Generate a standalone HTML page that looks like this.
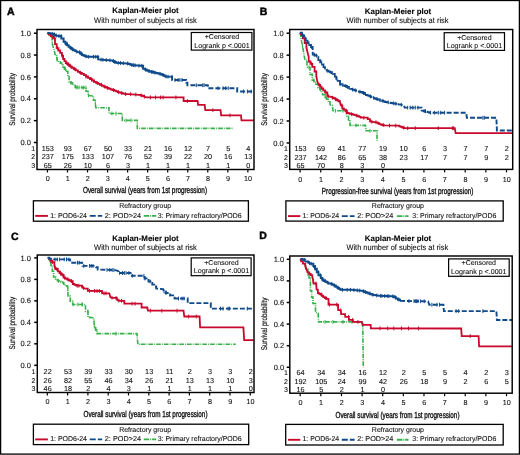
<!DOCTYPE html><html><head><meta charset="utf-8"><style>html,body{margin:0;padding:0;background:#fff;width:520px;height:455px;overflow:hidden}</style></head><body><svg width="520" height="455" viewBox="0 0 520 455" style="display:block;text-rendering:geometricPrecision;will-change:transform" font-family='"Liberation Sans", sans-serif'>
<style>text{stroke:#111;stroke-width:0.1px}</style>
<rect x="0" y="0" width="520" height="455" fill="#fff"/>
<g><text x="7" y="15" font-size="10.5" font-weight="bold" fill="#000" style="stroke:#000;stroke-width:0.45px">A</text><text x="145.5" y="13.1" font-size="8" font-weight="bold" text-anchor="middle" textLength="66.5" lengthAdjust="spacingAndGlyphs" fill="#000">Kaplan-Meier plot</text><text x="145.45" y="22.9" font-size="8" text-anchor="middle" textLength="102.8" lengthAdjust="spacingAndGlyphs" fill="#111">With number of subjects at risk</text><path d="M47.5,32.7 L48.9,32.7 L48.9,34.95 L50.3,34.95 L50.3,37.2 L52.1,37.2 L52.1,43 L53.2,47 L54.4,50.5 L55,54.5 L56.7,54.5 L56.7,56.8 L57.3,60.6 L58.85,60.6 L58.85,61.85 L60.4,61.85 L60.4,63.1 L61.75,63.1 L61.75,65.1 L63.1,65.1 L63.1,67.1 L64.45,67.1 L64.45,69.15 L65.8,69.15 L65.8,71.2 L67.8,71.2 L67.8,76.5 L69.1,76.5 L69.1,81.9 L70.8,81.9 L70.8,82.9 L72.5,82.9 L72.5,83.9 L73.85,83.9 L73.85,85.6 L75.2,85.6 L75.2,87.3 L83.9,87.6 L86,87.6 L86,91.3 L88,91.3 L88,95.4 L93.4,96 L93.5,100.2 L95.2,100.2 L95.2,101.9 L95.8,107.7 L109,107.7 L109,113.5 L122.3,113.5 L122.3,120.4 L137.3,120.4 L137.3,128.4 L233.3,128.4" fill="none" stroke="#36b14a" stroke-width="1.6" stroke-dasharray="4.6 1.1 0.9 1.1"/><path d="M52.49,42.51v3.8M56.96,56.55v3.8M65.44,67.25v3.8M71.04,81v3.8M77.24,85.47v3.8M83.61,85.69v3.8M88.45,93.55v3.8M95.46,102.49v3.8M76,85.43v3.8M79,85.53v3.8M82,85.63v3.8M86,85.7v3.8M112,111.6v3.8M116,111.6v3.8M126,118.5v3.8M131,118.5v3.8" stroke="#36b14a" stroke-width="1" fill="none"/><path d="M47.5,32.7 L48.6,34.3 L50.9,34.3 L50.9,36.1 L53.2,36.1 L53.2,38.4 L55,38.4 L55,44.2 L56.7,44.2 L56.7,48.2 L58.4,48.2 L58.4,50.5 L60.2,50.5 L60.2,52.8 L61.9,52.8 L61.9,55.7 L63.1,55.7 L63.1,59 L64.45,59 L64.45,61.05 L65.8,61.05 L65.8,63.1 L67.8,63.1 L67.8,64.75 L69.8,64.75 L69.8,66.4 L71.8,66.4 L71.8,67.75 L73.8,67.75 L73.8,69.1 L75.85,69.1 L75.85,70.45 L77.9,70.45 L77.9,71.8 L79.9,71.8 L79.9,72.8 L81.9,72.8 L81.9,73.8 L83.95,73.8 L83.95,75.15 L86,75.15 L86,76.5 L88,76.5 L88,77.85 L90,77.85 L90,79.2 L92,79.2 L92,80.55 L94,80.55 L94,81.9 L96.05,81.9 L96.05,82.9 L98.1,82.9 L98.1,83.9 L99.9,83.9 L99.9,84.8 L101.7,84.8 L101.7,85.7 L103.5,85.7 L103.5,86.6 L105.27,86.6 L105.27,87.27 L107.03,87.27 L107.03,87.93 L108.8,87.93 L108.8,88.6 L110.6,88.6 L110.6,89.3 L112.4,89.3 L112.4,90 L114.2,90 L114.2,90.7 L116,90.7 L116,91.37 L117.8,91.37 L117.8,92.03 L119.6,92.03 L119.6,92.7 L121.4,92.7 L121.4,93.13 L123.2,93.13 L123.2,93.57 L125,93.57 L125,94 L128.9,94.1 L139,94.8 L140.73,94.8 L140.73,95.4 L142.47,95.4 L142.47,96 L144.2,96 L144.2,96.6 L146.6,97.4 L182.3,97.4 L183.6,97.4 L183.6,101 L197.6,101 L198.1,104.8 L204.7,104.8 L205.3,110.2 L220.6,110.2 L221.1,115.3 L241,115.3 L241.5,120.4 L254,120.4" fill="none" stroke="#c8082c" stroke-width="1.8"/><path d="M50.29,32.4v3.8M54.58,36.5v3.8M57.45,46.3v3.8M62.19,53.8v3.8M66.79,61.2v3.8M68.61,62.85v3.8M70.75,64.5v3.8M74.88,67.2v3.8M80.61,70.9v3.8M86.04,74.6v3.8M91.59,77.3v3.8M93.85,78.65v3.8M97.13,81v3.8M101.5,82.9v3.8M104.86,84.7v3.8M107.57,86.03v3.8M113.59,88.1v3.8M118.24,90.13v3.8M121.75,91.23v3.8M125.64,92.12v3.8M130.59,92.32v3.8M135.84,92.68v3.8M141.18,93.5v3.8M144.39,94.76v3.8M150.4,95.5v3.8M155.5,95.5v3.8M160.6,95.5v3.8M163.1,95.5v3.8M175.9,95.5v3.8M187.4,99.1v3.8M212.9,108.3v3.8M230,113.4v3.8" stroke="#c8082c" stroke-width="1" fill="none"/><path d="M47.5,32.7 L52.1,33.8 L53.8,33.8 L53.8,34.65 L55.5,34.65 L55.5,35.5 L59,36.1 L61.3,36.1 L61.3,38.4 L63.6,38.4 L63.6,41.8 L65.35,41.8 L65.35,43.55 L67.1,43.55 L67.1,45.3 L68.63,45.3 L68.63,46.63 L70.17,46.63 L70.17,47.97 L71.7,47.97 L71.7,49.3 L73.45,49.3 L73.45,50.2 L75.2,50.2 L75.2,51.1 L78.6,52.2 L80.35,52.2 L80.35,53.65 L82.1,53.65 L82.1,55.1 L83.63,55.1 L83.63,55.67 L85.17,55.67 L85.17,56.23 L86.7,56.23 L86.7,56.8 L96.2,56.8 L98.2,56.8 L98.2,59.4 L111.5,60.4 L113.07,60.4 L113.07,61.17 L114.63,61.17 L114.63,61.93 L116.2,61.93 L116.2,62.7 L126.9,63.5 L128.43,63.5 L128.43,64 L129.97,64 L129.97,64.5 L131.5,64.5 L131.5,65 L140.8,65.8 L143.1,65.8 L143.1,68.8 L144.9,68.8 L144.9,69.6 L146.7,69.6 L146.7,70.4 L148.5,70.4 L148.5,71.2 L150.03,71.2 L150.03,71.58 L151.55,71.58 L151.55,71.95 L153.07,71.95 L153.07,72.33 L154.6,72.33 L154.6,72.7 L156.15,72.7 L156.15,73.08 L157.7,73.08 L157.7,73.45 L159.25,73.45 L159.25,73.83 L160.8,73.83 L160.8,74.2 L162.33,74.2 L162.33,74.97 L163.87,74.97 L163.87,75.73 L165.4,75.73 L165.4,76.5 L170.8,76.8" fill="none" stroke="#0f4a8a" stroke-width="2"/><path d="M170.8,76.8 L172.1,76.8 L172.1,80 L184.8,80 L186.1,80 L186.1,82.6 L187.4,82.6 L187.4,85.2 L206.5,85.2 L207.8,85.2 L207.8,88.2 L235.9,88.2 L237.2,88.2 L237.2,91.5 L254,91.5" fill="none" stroke="#0f4a8a" stroke-width="1.9" stroke-dasharray="5 2"/><path d="M52.29,31.9v3.8M54.46,32.75v3.8M56.28,33.73v3.8M59.03,34.2v3.8M61.17,34.2v3.8M65.53,41.65v3.8M66.76,41.65v3.8M70.91,46.07v3.8M72.69,47.4v3.8M76.81,49.72v3.8M79.57,50.3v3.8M81.24,51.75v3.8M85.99,54.33v3.8M88.7,54.9v3.8M93.42,54.9v3.8M95.78,54.9v3.8M97.84,54.9v3.8M101.04,57.71v3.8M102.94,57.86v3.8M106.22,58.1v3.8M109.96,58.38v3.8M113.47,59.27v3.8M114.69,60.03v3.8M118.3,60.96v3.8M120.46,61.12v3.8M123.29,61.33v3.8M127.58,61.6v3.8M131.9,63.13v3.8M133.58,63.28v3.8M135.11,63.41v3.8M139.02,63.75v3.8M141.77,63.9v3.8M145.52,67.7v3.8M149.05,69.3v3.8M151.7,70.05v3.8M153,70.05v3.8M155,70.8v3.8M160,71.92v3.8M163,73.07v3.8M166,74.63v3.8M168,74.74v3.8M172,74.9v3.8M175,78.1v3.8M178,78.1v3.8M180,78.1v3.8M182,78.1v3.8M196.3,83.3v3.8M202.7,83.3v3.8M204,83.3v3.8M218,86.3v3.8M223.1,86.3v3.8M225.7,86.3v3.8M228.2,86.3v3.8M243.5,89.6v3.8M247.4,89.6v3.8M251.2,89.6v3.8" stroke="#0f4a8a" stroke-width="1" fill="none"/><rect x="37" y="29.5" width="217" height="140" fill="none" stroke="#000" stroke-width="1.45"/><line x1="33.9" y1="142.5" x2="37" y2="142.5" stroke="#000" stroke-width="1.5"/><text x="30.9" y="145.1" font-size="7.5" text-anchor="end" fill="#111">0.0</text><line x1="33.9" y1="120.64" x2="37" y2="120.64" stroke="#000" stroke-width="1.5"/><text x="30.9" y="123.24" font-size="7.5" text-anchor="end" fill="#111">0.2</text><line x1="33.9" y1="98.78" x2="37" y2="98.78" stroke="#000" stroke-width="1.5"/><text x="30.9" y="101.38" font-size="7.5" text-anchor="end" fill="#111">0.4</text><line x1="33.9" y1="76.92" x2="37" y2="76.92" stroke="#000" stroke-width="1.5"/><text x="30.9" y="79.52" font-size="7.5" text-anchor="end" fill="#111">0.6</text><line x1="33.9" y1="55.06" x2="37" y2="55.06" stroke="#000" stroke-width="1.5"/><text x="30.9" y="57.66" font-size="7.5" text-anchor="end" fill="#111">0.8</text><line x1="33.9" y1="33.2" x2="37" y2="33.2" stroke="#000" stroke-width="1.5"/><text x="30.9" y="35.8" font-size="7.5" text-anchor="end" fill="#111">1.0</text><text transform="translate(14.5,99.4) rotate(-90)" x="0" y="0" font-size="8.2" style="stroke-width:0.2px" text-anchor="middle" textLength="52.7" lengthAdjust="spacingAndGlyphs" fill="#111">Survival probability</text><line x1="47.45" y1="169.5" x2="47.45" y2="172.5" stroke="#000" stroke-width="1.2"/><text x="47.65" y="181" font-size="7.2" text-anchor="middle" fill="#111">0</text><line x1="67.49" y1="169.5" x2="67.49" y2="172.5" stroke="#000" stroke-width="1.2"/><text x="67.69" y="181" font-size="7.2" text-anchor="middle" fill="#111">1</text><line x1="87.53" y1="169.5" x2="87.53" y2="172.5" stroke="#000" stroke-width="1.2"/><text x="87.73" y="181" font-size="7.2" text-anchor="middle" fill="#111">2</text><line x1="107.57" y1="169.5" x2="107.57" y2="172.5" stroke="#000" stroke-width="1.2"/><text x="107.77" y="181" font-size="7.2" text-anchor="middle" fill="#111">3</text><line x1="127.61" y1="169.5" x2="127.61" y2="172.5" stroke="#000" stroke-width="1.2"/><text x="127.81" y="181" font-size="7.2" text-anchor="middle" fill="#111">4</text><line x1="147.65" y1="169.5" x2="147.65" y2="172.5" stroke="#000" stroke-width="1.2"/><text x="147.85" y="181" font-size="7.2" text-anchor="middle" fill="#111">5</text><line x1="167.69" y1="169.5" x2="167.69" y2="172.5" stroke="#000" stroke-width="1.2"/><text x="167.89" y="181" font-size="7.2" text-anchor="middle" fill="#111">6</text><line x1="187.73" y1="169.5" x2="187.73" y2="172.5" stroke="#000" stroke-width="1.2"/><text x="187.93" y="181" font-size="7.2" text-anchor="middle" fill="#111">7</text><line x1="207.77" y1="169.5" x2="207.77" y2="172.5" stroke="#000" stroke-width="1.2"/><text x="207.97" y="181" font-size="7.2" text-anchor="middle" fill="#111">8</text><line x1="227.81" y1="169.5" x2="227.81" y2="172.5" stroke="#000" stroke-width="1.2"/><text x="228.01" y="181" font-size="7.2" text-anchor="middle" fill="#111">9</text><line x1="247.85" y1="169.5" x2="247.85" y2="172.5" stroke="#000" stroke-width="1.2"/><text x="248.05" y="181" font-size="7.2" text-anchor="middle" fill="#111">10</text><text x="35.2" y="150.9" font-size="7" text-anchor="end" fill="#111">1</text><text x="47.8" y="150.9" font-size="7.25" text-anchor="middle" fill="#111">153</text><text x="67.84" y="150.9" font-size="7.25" text-anchor="middle" fill="#111">93</text><text x="87.88" y="150.9" font-size="7.25" text-anchor="middle" fill="#111">67</text><text x="107.92" y="150.9" font-size="7.25" text-anchor="middle" fill="#111">50</text><text x="127.96" y="150.9" font-size="7.25" text-anchor="middle" fill="#111">33</text><text x="148" y="150.9" font-size="7.25" text-anchor="middle" fill="#111">21</text><text x="168.04" y="150.9" font-size="7.25" text-anchor="middle" fill="#111">16</text><text x="188.08" y="150.9" font-size="7.25" text-anchor="middle" fill="#111">12</text><text x="208.12" y="150.9" font-size="7.25" text-anchor="middle" fill="#111">7</text><text x="228.16" y="150.9" font-size="7.25" text-anchor="middle" fill="#111">5</text><text x="248.2" y="150.9" font-size="7.25" text-anchor="middle" fill="#111">4</text><text x="35.2" y="159.4" font-size="7" text-anchor="end" fill="#111">2</text><text x="47.8" y="159.4" font-size="7.25" text-anchor="middle" fill="#111">237</text><text x="67.84" y="159.4" font-size="7.25" text-anchor="middle" fill="#111">175</text><text x="87.88" y="159.4" font-size="7.25" text-anchor="middle" fill="#111">133</text><text x="107.92" y="159.4" font-size="7.25" text-anchor="middle" fill="#111">107</text><text x="127.96" y="159.4" font-size="7.25" text-anchor="middle" fill="#111">76</text><text x="148" y="159.4" font-size="7.25" text-anchor="middle" fill="#111">52</text><text x="168.04" y="159.4" font-size="7.25" text-anchor="middle" fill="#111">39</text><text x="188.08" y="159.4" font-size="7.25" text-anchor="middle" fill="#111">22</text><text x="208.12" y="159.4" font-size="7.25" text-anchor="middle" fill="#111">20</text><text x="228.16" y="159.4" font-size="7.25" text-anchor="middle" fill="#111">16</text><text x="248.2" y="159.4" font-size="7.25" text-anchor="middle" fill="#111">13</text><text x="35.2" y="167.8" font-size="7" text-anchor="end" fill="#111">3</text><text x="47.8" y="167.8" font-size="7.25" text-anchor="middle" fill="#111">65</text><text x="67.84" y="167.8" font-size="7.25" text-anchor="middle" fill="#111">26</text><text x="87.88" y="167.8" font-size="7.25" text-anchor="middle" fill="#111">10</text><text x="107.92" y="167.8" font-size="7.25" text-anchor="middle" fill="#111">6</text><text x="127.96" y="167.8" font-size="7.25" text-anchor="middle" fill="#111">3</text><text x="148" y="167.8" font-size="7.25" text-anchor="middle" fill="#111">1</text><text x="168.04" y="167.8" font-size="7.25" text-anchor="middle" fill="#111">1</text><text x="188.08" y="167.8" font-size="7.25" text-anchor="middle" fill="#111">1</text><text x="208.12" y="167.8" font-size="7.25" text-anchor="middle" fill="#111">1</text><text x="228.16" y="167.8" font-size="7.25" text-anchor="middle" fill="#111">1</text><text x="248.2" y="167.8" font-size="7.25" text-anchor="middle" fill="#111">0</text><text x="145" y="192.7" font-size="8.8" style="stroke-width:0.35px" text-anchor="middle" textLength="124" lengthAdjust="spacingAndGlyphs" fill="#111">Overall survival (years from 1st progression)</text><rect x="191.3" y="32.5" width="60.6" height="17.6" fill="#fff" stroke="#000" stroke-width="1.2"/><text x="222" y="39.3" font-size="7" text-anchor="middle" fill="#111">+Censored</text><text x="222" y="47.6" font-size="7.1" text-anchor="middle" fill="#111">Logrank p &lt;.0001</text><rect x="33.4" y="200.8" width="215" height="20.4" fill="#fff" stroke="#000" stroke-width="1.3"/><text x="145.2" y="208" font-size="7" text-anchor="middle" fill="#111">Refractory group</text><line x1="35.2" y1="215.9" x2="47.9" y2="215.9" stroke="#c8082c" stroke-width="1.9"/><text x="50.2" y="217.5" font-size="7.1" textLength="36.8" lengthAdjust="spacingAndGlyphs" fill="#111">1: POD6-24</text><line x1="89.75" y1="215.9" x2="102.2" y2="215.9" stroke="#0f4a8a" stroke-width="1.9" stroke-dasharray="6 2"/><text x="104.8" y="217.5" font-size="7.1" textLength="36.2" lengthAdjust="spacingAndGlyphs" fill="#111">2: POD&gt;24</text><line x1="143.75" y1="215.9" x2="156.2" y2="215.9" stroke="#36b14a" stroke-width="1.9" stroke-dasharray="5.5 0.9 1 0.9"/><text x="157.7" y="217.5" font-size="7.1" textLength="84" lengthAdjust="spacingAndGlyphs" fill="#111">3: Primary refractory/POD6</text></g>
<g><text x="259.7" y="14.8" font-size="10.5" font-weight="bold" fill="#000" style="stroke:#000;stroke-width:0.45px">B</text><text x="398" y="13.5" font-size="8" font-weight="bold" text-anchor="middle" textLength="66.5" lengthAdjust="spacingAndGlyphs" fill="#000">Kaplan-Meier plot</text><text x="397.5" y="22.7" font-size="8" text-anchor="middle" textLength="102.1" lengthAdjust="spacingAndGlyphs" fill="#111">With number of subjects at risk</text><path d="M300,32.6 L300.6,34.9 L301.2,39.5 L302.3,45.3 L303.5,51.1 L304.1,55.7 L305.2,60.3 L307,60.3 L307,64.9 L307.5,67.2 L310,67.2 L310,74.4 L312.3,74.4 L312.3,80.2 L314.05,80.2 L314.05,82.2 L315.8,82.2 L315.8,84.2 L318.1,84.2 L318.1,87.7 L319.8,87.7 L319.8,89.45 L321.5,89.45 L321.5,91.2 L322.7,94.6 L325,94.6 L325,96.9 L326.7,96.9 L326.7,99.2 L328.35,99.2 L328.35,101.9 L330,101.9 L330,104.6 L332.3,105.4 L333,110.8 L345.4,110.8 L346.2,112.3 L347,116.2 L348.5,116.2 L348.5,120.8 L350,120.8 L350,125.4 L365.4,125.4 L366.2,130.8 L377,130.8 L377,141.3" fill="none" stroke="#36b14a" stroke-width="1.6" stroke-dasharray="4.6 1.1 0.9 1.1"/><path d="M302.5,44.35v3.8M308.95,65.3v3.8M313.81,78.3v3.8M320.36,87.55v3.8M325.31,95v3.8M335.35,108.9v3.8M342.85,108.9v3.8M356,123.5v3.8M370,128.9v3.8" stroke="#36b14a" stroke-width="1" fill="none"/><path d="M300,32.6 L301.2,34.9 L302.9,34.9 L302.9,38.4 L304.7,38.4 L304.7,43 L306.4,43 L306.4,47.6 L307.5,52.2 L308.7,56.8 L308.7,61.5 L310.4,61.5 L310.4,63.8 L312.3,63.8 L312.3,66.9 L314.6,66.9 L314.6,71.5 L316.3,71.5 L316.3,76.2 L317.5,81.9 L318.7,84.8 L320.1,84.8 L320.1,86.55 L321.5,86.55 L321.5,88.3 L323.25,88.3 L323.25,90.3 L325,90.3 L325,92.3 L327.3,92.3 L327.3,95.8 L330.8,96.9 L332.33,96.9 L332.33,97.67 L333.87,97.67 L333.87,98.43 L335.4,98.43 L335.4,99.2 L336.93,99.2 L336.93,100.23 L338.47,100.23 L338.47,101.27 L340,101.27 L340,102.3 L340.8,105.4 L342.3,105.4 L342.3,108.5 L343.85,108.5 L343.85,109.65 L345.4,109.65 L345.4,110.8 L347,110.8 L347,113 L348.5,113 L348.5,113.4 L350,113.4 L350,113.8 L351.5,113.8 L351.5,114.2 L353,114.2 L353,114.6 L354.57,114.6 L354.57,115.13 L356.13,115.13 L356.13,115.67 L357.7,115.67 L357.7,116.2 L359.25,116.2 L359.25,116.95 L360.8,116.95 L360.8,117.7 L366.2,117.7 L367.7,117.7 L367.7,119.2 L370,119.2 L370,121.5 L376.2,122.3 L377.7,122.3 L377.7,123.25 L379.2,123.25 L379.2,124.2 L380.73,124.2 L380.73,124.6 L382.27,124.6 L382.27,125 L383.8,125 L383.8,125.4 L397.7,125.7 L399.25,125.7 L399.25,126.3 L400.8,126.3 L400.8,126.9 L402.3,126.9 L402.3,127.55 L403.8,127.55 L403.8,128.2 L454.8,128.2 L455.6,133.1 L512.5,133.1" fill="none" stroke="#c8082c" stroke-width="1.8"/><path d="M306.63,46.67v3.8M311.6,61.9v3.8M316.41,74.84v3.8M319.18,82.9v3.8M325.89,90.4v3.8M328.3,94.22v3.8M332.48,95.77v3.8M335.49,97.3v3.8M341.86,103.5v3.8M346.6,108.9v3.8M351.63,112.3v3.8M356.8,113.77v3.8M363.86,115.8v3.8M371.74,119.82v3.8M375.96,120.37v3.8M383.24,123.1v3.8M389.5,123.62v3.8M395.69,123.76v3.8M403.8,125.65v3.8M407.7,126.3v3.8M415.3,126.3v3.8M438.3,126.3v3.8M452.3,126.3v3.8M453.6,126.3v3.8" stroke="#c8082c" stroke-width="1" fill="none"/><path d="M300,32.6 L302.05,32.6 L302.05,35.5 L304.1,35.5 L304.1,38.4 L305.8,38.4 L305.8,40.7 L307.5,40.7 L307.5,43 L309.25,43 L309.25,45 L311,45 L311,47 L312.7,47 L312.7,50.5 L312.7,54.5 L314.75,54.5 L314.75,55.65 L316.8,55.65 L316.8,56.8 L318.3,56.8 L318.3,60.1 L320.15,60.1 L320.15,62.3 L322,62.3 L322,64.5 L323.5,64.5 L323.5,67.15 L325,67.15 L325,69.8 L326.75,69.8 L326.75,70.65 L328.5,70.65 L328.5,71.5 L330.03,71.5 L330.03,72.27 L331.57,72.27 L331.57,73.03 L333.1,73.03 L333.1,73.8 L334.8,73.8 L334.8,76.7 L336.25,76.7 L336.25,78.75 L337.7,78.75 L337.7,80.8 L340,80.8 L340,84.2 L341.53,84.2 L341.53,84.8 L343.07,84.8 L343.07,85.4 L344.6,85.4 L344.6,86 L346.53,86 L346.53,86.93 L348.47,86.93 L348.47,87.87 L350.4,87.87 L350.4,88.8 L352.33,88.8 L352.33,89.6 L354.27,89.6 L354.27,90.4 L356.2,90.4 L356.2,91.2 L360.8,92 L362.53,92 L362.53,93 L364.27,93 L364.27,94 L366,94 L366,95 L367.7,95 L367.7,95.7 L369.4,95.7 L369.4,96.4 L371.1,96.4 L371.1,97.1 L372.8,97.1 L372.8,97.8 L374.5,97.8 L374.5,98.5 L376.25,98.5 L376.25,99.08 L378,99.08 L378,99.67 L379.75,99.67 L379.75,100.25 L381.5,100.25 L381.5,100.83 L383.25,100.83 L383.25,101.42 L385,101.42 L385,102 L386.81,102 L386.81,102.33 L388.63,102.33 L388.63,102.66 L390.44,102.66 L390.44,102.99 L392.26,102.99 L392.26,103.31 L394.07,103.31 L394.07,103.64 L395.89,103.64 L395.89,103.97 L397.7,103.97 L397.7,104.3" fill="none" stroke="#0f4a8a" stroke-width="1.8" stroke-dasharray="9 1.6"/><path d="M397.7,104.3 L403.8,105 L404.6,107.6 L420.4,107.6 L421.7,107.6 L421.7,110.6 L423.6,110.6 L423.6,111.12 L425.5,111.12 L425.5,111.65 L427.4,111.65 L427.4,112.17 L429.3,112.17 L429.3,112.7 L466.3,112.7 L466.8,117.8 L496.4,117.8 L496.9,130.5 L512.5,130.5" fill="none" stroke="#0f4a8a" stroke-width="1.9" stroke-dasharray="5 2"/><path d="M302.72,33.6v3.8M305.46,36.5v3.8M308.89,41.1v3.8M311.57,45.1v3.8M314.19,52.6v3.8M316.43,53.75v3.8M321.7,60.4v3.8M327.18,68.75v3.8M332.26,71.13v3.8M336.99,76.85v3.8M340.1,82.3v3.8M342.8,82.9v3.8M345.9,84.1v3.8M347.37,85.03v3.8M349.26,85.97v3.8M352.65,87.7v3.8M355.8,88.5v3.8M359.94,89.95v3.8M363.7,91.1v3.8M365.51,92.1v3.8M370.48,94.5v3.8M373.67,95.9v3.8M377.08,97.18v3.8M380.04,98.35v3.8M382.98,98.93v3.8M388.24,100.43v3.8M393.7,101.41v3.8M395.87,101.74v3.8M401.3,102.81v3.8M407.7,105.7v3.8M410.2,105.7v3.8M412.8,105.7v3.8M415.3,105.7v3.8M417.9,105.7v3.8M424.2,109.22v3.8M425.5,109.22v3.8M430.6,110.8v3.8M434.4,110.8v3.8M438.3,110.8v3.8M440.8,110.8v3.8M444.6,110.8v3.8M482.9,115.9v3.8M484.2,115.9v3.8" stroke="#0f4a8a" stroke-width="1" fill="none"/><rect x="289.7" y="29.5" width="223" height="139.9" fill="none" stroke="#000" stroke-width="1.45"/><line x1="286.6" y1="142.95" x2="289.7" y2="142.95" stroke="#000" stroke-width="1.5"/><text x="283.7" y="145.55" font-size="7.5" text-anchor="end" fill="#111">0.0</text><line x1="286.6" y1="121" x2="289.7" y2="121" stroke="#000" stroke-width="1.5"/><text x="283.7" y="123.6" font-size="7.5" text-anchor="end" fill="#111">0.2</text><line x1="286.6" y1="99.05" x2="289.7" y2="99.05" stroke="#000" stroke-width="1.5"/><text x="283.7" y="101.65" font-size="7.5" text-anchor="end" fill="#111">0.4</text><line x1="286.6" y1="77.1" x2="289.7" y2="77.1" stroke="#000" stroke-width="1.5"/><text x="283.7" y="79.7" font-size="7.5" text-anchor="end" fill="#111">0.6</text><line x1="286.6" y1="55.15" x2="289.7" y2="55.15" stroke="#000" stroke-width="1.5"/><text x="283.7" y="57.75" font-size="7.5" text-anchor="end" fill="#111">0.8</text><line x1="286.6" y1="33.2" x2="289.7" y2="33.2" stroke="#000" stroke-width="1.5"/><text x="283.7" y="35.8" font-size="7.5" text-anchor="end" fill="#111">1.0</text><text transform="translate(266.9,99.4) rotate(-90)" x="0" y="0" font-size="8.2" style="stroke-width:0.2px" text-anchor="middle" textLength="52.7" lengthAdjust="spacingAndGlyphs" fill="#111">Survival probability</text><line x1="300.1" y1="169.4" x2="300.1" y2="172.4" stroke="#000" stroke-width="1.2"/><text x="300.3" y="181.5" font-size="7.2" text-anchor="middle" fill="#111">0</text><line x1="320.74" y1="169.4" x2="320.74" y2="172.4" stroke="#000" stroke-width="1.2"/><text x="320.94" y="181.5" font-size="7.2" text-anchor="middle" fill="#111">1</text><line x1="341.38" y1="169.4" x2="341.38" y2="172.4" stroke="#000" stroke-width="1.2"/><text x="341.58" y="181.5" font-size="7.2" text-anchor="middle" fill="#111">2</text><line x1="362.02" y1="169.4" x2="362.02" y2="172.4" stroke="#000" stroke-width="1.2"/><text x="362.22" y="181.5" font-size="7.2" text-anchor="middle" fill="#111">3</text><line x1="382.66" y1="169.4" x2="382.66" y2="172.4" stroke="#000" stroke-width="1.2"/><text x="382.86" y="181.5" font-size="7.2" text-anchor="middle" fill="#111">4</text><line x1="403.3" y1="169.4" x2="403.3" y2="172.4" stroke="#000" stroke-width="1.2"/><text x="403.5" y="181.5" font-size="7.2" text-anchor="middle" fill="#111">5</text><line x1="423.94" y1="169.4" x2="423.94" y2="172.4" stroke="#000" stroke-width="1.2"/><text x="424.14" y="181.5" font-size="7.2" text-anchor="middle" fill="#111">6</text><line x1="444.58" y1="169.4" x2="444.58" y2="172.4" stroke="#000" stroke-width="1.2"/><text x="444.78" y="181.5" font-size="7.2" text-anchor="middle" fill="#111">7</text><line x1="465.22" y1="169.4" x2="465.22" y2="172.4" stroke="#000" stroke-width="1.2"/><text x="465.42" y="181.5" font-size="7.2" text-anchor="middle" fill="#111">8</text><line x1="485.86" y1="169.4" x2="485.86" y2="172.4" stroke="#000" stroke-width="1.2"/><text x="486.06" y="181.5" font-size="7.2" text-anchor="middle" fill="#111">9</text><line x1="506.5" y1="169.4" x2="506.5" y2="172.4" stroke="#000" stroke-width="1.2"/><text x="506.7" y="181.5" font-size="7.2" text-anchor="middle" fill="#111">10</text><text x="288" y="151.3" font-size="7" text-anchor="end" fill="#111">1</text><text x="300.45" y="151.3" font-size="7.25" text-anchor="middle" fill="#111">153</text><text x="321.09" y="151.3" font-size="7.25" text-anchor="middle" fill="#111">69</text><text x="341.73" y="151.3" font-size="7.25" text-anchor="middle" fill="#111">41</text><text x="362.37" y="151.3" font-size="7.25" text-anchor="middle" fill="#111">77</text><text x="383.01" y="151.3" font-size="7.25" text-anchor="middle" fill="#111">19</text><text x="403.65" y="151.3" font-size="7.25" text-anchor="middle" fill="#111">10</text><text x="424.29" y="151.3" font-size="7.25" text-anchor="middle" fill="#111">6</text><text x="444.93" y="151.3" font-size="7.25" text-anchor="middle" fill="#111">3</text><text x="465.57" y="151.3" font-size="7.25" text-anchor="middle" fill="#111">7</text><text x="486.21" y="151.3" font-size="7.25" text-anchor="middle" fill="#111">7</text><text x="506.85" y="151.3" font-size="7.25" text-anchor="middle" fill="#111">2</text><text x="288" y="159.8" font-size="7" text-anchor="end" fill="#111">2</text><text x="300.45" y="159.8" font-size="7.25" text-anchor="middle" fill="#111">237</text><text x="321.09" y="159.8" font-size="7.25" text-anchor="middle" fill="#111">142</text><text x="341.73" y="159.8" font-size="7.25" text-anchor="middle" fill="#111">86</text><text x="362.37" y="159.8" font-size="7.25" text-anchor="middle" fill="#111">65</text><text x="383.01" y="159.8" font-size="7.25" text-anchor="middle" fill="#111">38</text><text x="403.65" y="159.8" font-size="7.25" text-anchor="middle" fill="#111">23</text><text x="424.29" y="159.8" font-size="7.25" text-anchor="middle" fill="#111">17</text><text x="444.93" y="159.8" font-size="7.25" text-anchor="middle" fill="#111">7</text><text x="465.57" y="159.8" font-size="7.25" text-anchor="middle" fill="#111">7</text><text x="486.21" y="159.8" font-size="7.25" text-anchor="middle" fill="#111">9</text><text x="506.85" y="159.8" font-size="7.25" text-anchor="middle" fill="#111">2</text><text x="288" y="167.9" font-size="7" text-anchor="end" fill="#111">3</text><text x="300.45" y="167.9" font-size="7.25" text-anchor="middle" fill="#111">65</text><text x="321.09" y="167.9" font-size="7.25" text-anchor="middle" fill="#111">70</text><text x="341.73" y="167.9" font-size="7.25" text-anchor="middle" fill="#111">8</text><text x="362.37" y="167.9" font-size="7.25" text-anchor="middle" fill="#111">3</text><text x="383.01" y="167.9" font-size="7.25" text-anchor="middle" fill="#111">0</text><text x="397.6" y="193.5" font-size="8.8" style="stroke-width:0.35px" text-anchor="middle" textLength="151.6" lengthAdjust="spacingAndGlyphs" fill="#111">Progression-free survival (years from 1st progression)</text><rect x="444.2" y="32.7" width="60.3" height="17.7" fill="#fff" stroke="#000" stroke-width="1.2"/><text x="474.4" y="40" font-size="7" text-anchor="middle" fill="#111">+Censored</text><text x="474.4" y="48.2" font-size="7.1" text-anchor="middle" fill="#111">Logrank p &lt;.0001</text><rect x="285.9" y="200.9" width="217.3" height="20.2" fill="#fff" stroke="#000" stroke-width="1.3"/><text x="397.9" y="208.2" font-size="7" text-anchor="middle" fill="#111">Refractory group</text><line x1="288" y1="216.1" x2="300.3" y2="216.1" stroke="#c8082c" stroke-width="1.9"/><text x="302.4" y="217.7" font-size="7.1" textLength="36.8" lengthAdjust="spacingAndGlyphs" fill="#111">1: POD6-24</text><line x1="341.8" y1="216.1" x2="354.6" y2="216.1" stroke="#0f4a8a" stroke-width="1.9" stroke-dasharray="6 2"/><text x="357.2" y="217.7" font-size="7.1" textLength="36.2" lengthAdjust="spacingAndGlyphs" fill="#111">2: POD&gt;24</text><line x1="396.9" y1="216.1" x2="408.5" y2="216.1" stroke="#36b14a" stroke-width="1.9" stroke-dasharray="5.5 0.9 1 0.9"/><text x="412.3" y="217.7" font-size="7.1" textLength="84" lengthAdjust="spacingAndGlyphs" fill="#111">3: Primary refractory/POD6</text></g>
<g><text x="11" y="239.8" font-size="10.5" font-weight="bold" fill="#000" style="stroke:#000;stroke-width:0.45px">C</text><text x="145.5" y="241.1" font-size="8" font-weight="bold" text-anchor="middle" textLength="66.5" lengthAdjust="spacingAndGlyphs" fill="#000">Kaplan-Meier plot</text><text x="145.45" y="249.6" font-size="8" text-anchor="middle" textLength="102.8" lengthAdjust="spacingAndGlyphs" fill="#111">With number of subjects at risk</text><path d="M47.7,257.8 L49.35,257.8 L49.35,261.65 L51,261.65 L51,265.5 L52.3,265.5 L52.3,271.25 L53.6,271.25 L53.6,277 L55.5,277 L55.5,278.9 L57.4,278.9 L57.4,280.8 L59.1,280.8 L59.1,281.4 L60.8,281.4 L60.8,282 L62.5,282 L62.5,282.6 L63.8,282.6 L63.8,284.25 L65.1,284.25 L65.1,285.9 L67.6,285.9 L68.1,296.1 L70.2,296.1 L70.2,301.2 L72.7,301.2 L72.7,304.5 L84.2,304.5 L85.5,304.5 L85.5,311.4 L88,311.4 L88,317.3 L93.7,317.8 L94.4,326.7 L95.7,326.7 L95.7,330.15 L97,330.15 L97,333.6 L137,333.6 L137.8,344.2 L235.8,344.2" fill="none" stroke="#36b14a" stroke-width="1.6" stroke-dasharray="4.6 1.1 0.9 1.1"/><path d="M50.45,259.75v3.8M58.36,278.9v3.8M67.76,287.33v3.8M73.15,302.6v3.8M82.36,302.6v3.8M87.85,309.5v3.8M94.72,324.8v3.8M78,302.6v3.8M82,302.6v3.8M116,331.7v3.8" stroke="#36b14a" stroke-width="1" fill="none"/><path d="M47.7,257.8 L49.2,257.8 L49.2,259.2 L50.65,259.2 L50.65,260.65 L52.1,260.65 L52.1,262.1 L54.4,262.1 L54.4,265.5 L55.5,269 L57.8,269 L57.8,271.3 L59.55,271.3 L59.55,273.05 L61.3,273.05 L61.3,274.8 L63.6,274.8 L63.6,277.7 L65.35,277.7 L65.35,278.55 L67.1,278.55 L67.1,279.4 L68.8,279.4 L68.8,280.25 L70.5,280.25 L70.5,281.1 L72.8,281.1 L72.8,284 L74.55,284 L74.55,284.85 L76.3,284.85 L76.3,285.7 L79.8,285.7 L82.1,285.7 L82.1,287.5 L85.5,288.6 L87.8,288.6 L87.8,290.9 L101.8,291 L102.3,293.3 L109.3,293.3 L110.4,297.3 L112.7,297.9 L116.8,297.9 L117.3,300.2 L120.2,300.8 L124.3,300.8 L124.3,303.7 L141.6,303.7 L141.6,307.5 L147.3,307.5 L147.9,310.7 L183.5,310.7 L184.3,316.5 L199.6,316.5 L200.1,327.4 L243.4,327.4 L244.2,340.2 L253.5,340.2" fill="none" stroke="#c8082c" stroke-width="1.8"/><path d="M50.82,258.75v3.8M52.61,260.2v3.8M55.05,265.68v3.8M56.82,267.1v3.8M60.53,271.15v3.8M62.72,272.9v3.8M64.78,275.8v3.8M67.86,277.5v3.8M71.38,279.2v3.8M77.22,283.8v3.8M78.88,283.8v3.8M83.6,286.08v3.8M89.55,289.01v3.8M94.67,289.05v3.8M97.04,289.07v3.8M99.38,289.08v3.8M102,290.02v3.8M104,291.4v3.8M106,291.4v3.8M112,295.82v3.8M116,296v3.8M118.8,298.61v3.8M121.5,298.9v3.8M132,301.8v3.8M135,301.8v3.8M150.4,308.8v3.8M161.8,308.8v3.8M177.1,308.8v3.8M188.6,314.6v3.8M196.3,314.6v3.8" stroke="#c8082c" stroke-width="1" fill="none"/><path d="M47.7,257.8 L49.3,257.8 L49.3,258.6 L50.9,258.6 L50.9,259.4 L70,259.4 L70.5,262.7 L82.1,262.7 L82.6,265.9 L95.5,265.9 L96,267.2 L97.7,267.2 L97.7,269.5 L115,270.1 L117.9,270.7 L118.5,273 L130.6,273 L131.8,273 L131.8,275.8 L143.3,275.8 L144.6,275.8 L144.6,278.5 L146.55,278.5 L146.55,280 L148.5,280 L148.5,281.5 L150.4,281.5 L150.4,283.05 L152.3,283.05 L152.3,284.6 L154.25,284.6 L154.25,286.55 L156.2,286.55 L156.2,288.5 L163.1,289.2 L163.8,291.5 L165.75,291.5 L165.75,293.05 L167.7,293.05 L167.7,294.6 L172.3,295.4 L174.6,295.4 L174.6,298.5 L186.2,298.5 L187.7,298.5 L187.7,303.1 L209.2,303.1 L210.8,303.1 L210.8,308.6 L253.5,308.6" fill="none" stroke="#0f4a8a" stroke-width="1.9" stroke-dasharray="5 2"/><path d="M55,257.5v3.8M57.3,257.5v3.8M59.6,257.5v3.8M64.2,257.5v3.8M66.5,257.5v3.8M68.8,257.5v3.8M77.5,260.8v3.8M79.2,260.8v3.8M83.8,264v3.8M89.6,264v3.8M91.3,264v3.8M93,264v3.8M107,267.92v3.8M109.8,268.02v3.8M112.2,268.1v3.8M113.9,268.16v3.8M119.6,271.1v3.8M122.5,271.1v3.8M124.3,271.1v3.8M126,271.1v3.8M128.9,271.1v3.8M132.3,273.9v3.8M143.9,273.9v3.8M145,276.6v3.8M150.2,279.6v3.8M164,289.6v3.8M166,291.15v3.8M170,293.1v3.8M178.5,296.6v3.8M182,296.6v3.8M184,296.6v3.8M220.5,306.7v3.8M223,306.7v3.8M228.1,306.7v3.8M229.4,306.7v3.8M247.3,306.7v3.8" stroke="#0f4a8a" stroke-width="1" fill="none"/><rect x="37.3" y="255" width="216.7" height="137.5" fill="none" stroke="#000" stroke-width="1.45"/><line x1="34.2" y1="365.3" x2="37.3" y2="365.3" stroke="#000" stroke-width="1.5"/><text x="30.9" y="367.9" font-size="7.5" text-anchor="end" fill="#111">0.0</text><line x1="34.2" y1="343.82" x2="37.3" y2="343.82" stroke="#000" stroke-width="1.5"/><text x="30.9" y="346.42" font-size="7.5" text-anchor="end" fill="#111">0.2</text><line x1="34.2" y1="322.34" x2="37.3" y2="322.34" stroke="#000" stroke-width="1.5"/><text x="30.9" y="324.94" font-size="7.5" text-anchor="end" fill="#111">0.4</text><line x1="34.2" y1="300.86" x2="37.3" y2="300.86" stroke="#000" stroke-width="1.5"/><text x="30.9" y="303.46" font-size="7.5" text-anchor="end" fill="#111">0.6</text><line x1="34.2" y1="279.38" x2="37.3" y2="279.38" stroke="#000" stroke-width="1.5"/><text x="30.9" y="281.98" font-size="7.5" text-anchor="end" fill="#111">0.8</text><line x1="34.2" y1="257.9" x2="37.3" y2="257.9" stroke="#000" stroke-width="1.5"/><text x="30.9" y="260.5" font-size="7.5" text-anchor="end" fill="#111">1.0</text><text transform="translate(14.5,323.2) rotate(-90)" x="0" y="0" font-size="8.2" style="stroke-width:0.2px" text-anchor="middle" textLength="52.7" lengthAdjust="spacingAndGlyphs" fill="#111">Survival probability</text><line x1="47.3" y1="392.5" x2="47.3" y2="395.5" stroke="#000" stroke-width="1.2"/><text x="47.5" y="404.1" font-size="7.2" text-anchor="middle" fill="#111">0</text><line x1="67.6" y1="392.5" x2="67.6" y2="395.5" stroke="#000" stroke-width="1.2"/><text x="67.8" y="404.1" font-size="7.2" text-anchor="middle" fill="#111">1</text><line x1="87.9" y1="392.5" x2="87.9" y2="395.5" stroke="#000" stroke-width="1.2"/><text x="88.1" y="404.1" font-size="7.2" text-anchor="middle" fill="#111">2</text><line x1="108.2" y1="392.5" x2="108.2" y2="395.5" stroke="#000" stroke-width="1.2"/><text x="108.4" y="404.1" font-size="7.2" text-anchor="middle" fill="#111">3</text><line x1="128.5" y1="392.5" x2="128.5" y2="395.5" stroke="#000" stroke-width="1.2"/><text x="128.7" y="404.1" font-size="7.2" text-anchor="middle" fill="#111">4</text><line x1="148.8" y1="392.5" x2="148.8" y2="395.5" stroke="#000" stroke-width="1.2"/><text x="149" y="404.1" font-size="7.2" text-anchor="middle" fill="#111">5</text><line x1="169.1" y1="392.5" x2="169.1" y2="395.5" stroke="#000" stroke-width="1.2"/><text x="169.3" y="404.1" font-size="7.2" text-anchor="middle" fill="#111">6</text><line x1="189.4" y1="392.5" x2="189.4" y2="395.5" stroke="#000" stroke-width="1.2"/><text x="189.6" y="404.1" font-size="7.2" text-anchor="middle" fill="#111">7</text><line x1="209.7" y1="392.5" x2="209.7" y2="395.5" stroke="#000" stroke-width="1.2"/><text x="209.9" y="404.1" font-size="7.2" text-anchor="middle" fill="#111">8</text><line x1="230" y1="392.5" x2="230" y2="395.5" stroke="#000" stroke-width="1.2"/><text x="230.2" y="404.1" font-size="7.2" text-anchor="middle" fill="#111">9</text><line x1="250.3" y1="392.5" x2="250.3" y2="395.5" stroke="#000" stroke-width="1.2"/><text x="250.5" y="404.1" font-size="7.2" text-anchor="middle" fill="#111">10</text><text x="35.5" y="373.5" font-size="7" text-anchor="end" fill="#111">1</text><text x="47.65" y="373.5" font-size="7.25" text-anchor="middle" fill="#111">22</text><text x="67.95" y="373.5" font-size="7.25" text-anchor="middle" fill="#111">53</text><text x="88.25" y="373.5" font-size="7.25" text-anchor="middle" fill="#111">39</text><text x="108.55" y="373.5" font-size="7.25" text-anchor="middle" fill="#111">33</text><text x="128.85" y="373.5" font-size="7.25" text-anchor="middle" fill="#111">30</text><text x="149.15" y="373.5" font-size="7.25" text-anchor="middle" fill="#111">13</text><text x="169.45" y="373.5" font-size="7.25" text-anchor="middle" fill="#111">11</text><text x="189.75" y="373.5" font-size="7.25" text-anchor="middle" fill="#111">2</text><text x="210.05" y="373.5" font-size="7.25" text-anchor="middle" fill="#111">3</text><text x="230.35" y="373.5" font-size="7.25" text-anchor="middle" fill="#111">3</text><text x="250.65" y="373.5" font-size="7.25" text-anchor="middle" fill="#111">2</text><text x="35.5" y="382.5" font-size="7" text-anchor="end" fill="#111">2</text><text x="47.65" y="382.5" font-size="7.25" text-anchor="middle" fill="#111">26</text><text x="67.95" y="382.5" font-size="7.25" text-anchor="middle" fill="#111">82</text><text x="88.25" y="382.5" font-size="7.25" text-anchor="middle" fill="#111">55</text><text x="108.55" y="382.5" font-size="7.25" text-anchor="middle" fill="#111">46</text><text x="128.85" y="382.5" font-size="7.25" text-anchor="middle" fill="#111">34</text><text x="149.15" y="382.5" font-size="7.25" text-anchor="middle" fill="#111">26</text><text x="169.45" y="382.5" font-size="7.25" text-anchor="middle" fill="#111">21</text><text x="189.75" y="382.5" font-size="7.25" text-anchor="middle" fill="#111">13</text><text x="210.05" y="382.5" font-size="7.25" text-anchor="middle" fill="#111">13</text><text x="230.35" y="382.5" font-size="7.25" text-anchor="middle" fill="#111">10</text><text x="250.65" y="382.5" font-size="7.25" text-anchor="middle" fill="#111">3</text><text x="35.5" y="391.1" font-size="7" text-anchor="end" fill="#111">3</text><text x="47.65" y="391.1" font-size="7.25" text-anchor="middle" fill="#111">46</text><text x="67.95" y="391.1" font-size="7.25" text-anchor="middle" fill="#111">18</text><text x="88.25" y="391.1" font-size="7.25" text-anchor="middle" fill="#111">2</text><text x="108.55" y="391.1" font-size="7.25" text-anchor="middle" fill="#111">4</text><text x="128.85" y="391.1" font-size="7.25" text-anchor="middle" fill="#111">3</text><text x="149.15" y="391.1" font-size="7.25" text-anchor="middle" fill="#111">1</text><text x="169.45" y="391.1" font-size="7.25" text-anchor="middle" fill="#111">1</text><text x="189.75" y="391.1" font-size="7.25" text-anchor="middle" fill="#111">1</text><text x="210.05" y="391.1" font-size="7.25" text-anchor="middle" fill="#111">1</text><text x="230.35" y="391.1" font-size="7.25" text-anchor="middle" fill="#111">1</text><text x="250.65" y="391.1" font-size="7.25" text-anchor="middle" fill="#111">0</text><text x="145.5" y="416.5" font-size="8.8" style="stroke-width:0.35px" text-anchor="middle" textLength="124" lengthAdjust="spacingAndGlyphs" fill="#111">Overall survival (years from 1st progression)</text><rect x="191.2" y="257.9" width="59.9" height="17.8" fill="#fff" stroke="#000" stroke-width="1.2"/><text x="221.5" y="264.6" font-size="7" text-anchor="middle" fill="#111">+Censored</text><text x="221.5" y="272.7" font-size="7.1" text-anchor="middle" fill="#111">Logrank p &lt;.0001</text><rect x="33.4" y="424.2" width="215.3" height="20.4" fill="#fff" stroke="#000" stroke-width="1.3"/><text x="145.2" y="431.6" font-size="7" text-anchor="middle" fill="#111">Refractory group</text><line x1="35.2" y1="439.4" x2="47.9" y2="439.4" stroke="#c8082c" stroke-width="1.9"/><text x="50.2" y="441" font-size="7.1" textLength="36.8" lengthAdjust="spacingAndGlyphs" fill="#111">1: POD6-24</text><line x1="89.75" y1="439.4" x2="102.2" y2="439.4" stroke="#0f4a8a" stroke-width="1.9" stroke-dasharray="6 2"/><text x="104.8" y="441" font-size="7.1" textLength="36.2" lengthAdjust="spacingAndGlyphs" fill="#111">2: POD&gt;24</text><line x1="143.75" y1="439.4" x2="156.2" y2="439.4" stroke="#36b14a" stroke-width="1.9" stroke-dasharray="5.5 0.9 1 0.9"/><text x="157.7" y="441" font-size="7.1" textLength="84" lengthAdjust="spacingAndGlyphs" fill="#111">3: Primary refractory/POD6</text></g>
<g><text x="259.3" y="239.2" font-size="10.5" font-weight="bold" fill="#000" style="stroke:#000;stroke-width:0.45px">D</text><text x="398" y="240.9" font-size="8" font-weight="bold" text-anchor="middle" textLength="66.5" lengthAdjust="spacingAndGlyphs" fill="#000">Kaplan-Meier plot</text><text x="397.3" y="249.8" font-size="8" text-anchor="middle" textLength="101.8" lengthAdjust="spacingAndGlyphs" fill="#111">With number of subjects at risk</text><path d="M300.7,258.8 L304.8,259.6 L305.8,269 L307.9,269 L307.9,274.1 L309.1,274.1 L309.1,278 L310.4,278 L310.4,290.7 L311.7,290.7 L311.7,297.1 L313,297.1 L313,303.5 L315.5,303.5 L315.5,312.4 L318.1,313.2 L318.6,321.9 L362.7,321.9 L363.3,367.3" fill="none" stroke="#36b14a" stroke-width="1.6" stroke-dasharray="4.6 1.1 0.9 1.1"/><path d="M307.93,272.2v3.8M325,320v3.8M333,320v3.8M343,320v3.8M352,320v3.8" stroke="#36b14a" stroke-width="1" fill="none"/><path d="M300.4,259 L301.2,261.3 L302.9,261.3 L302.9,263.7 L305.2,263.7 L305.2,266 L306.4,268.8 L307.5,272.3 L309.3,272.3 L309.3,274 L310.75,274 L310.75,275.15 L312.2,275.15 L312.2,276.3 L313.1,280 L313.5,283.5 L316.2,283.5 L316.6,289.7 L317.9,289.7 L317.9,293.2 L319.2,293.2 L319.2,293.85 L320.5,293.85 L320.5,294.5 L321.85,294.5 L321.85,295.8 L323.2,295.8 L323.2,297.1 L324.75,297.1 L324.75,298 L326.3,298 L326.3,298.9 L328.5,298.9 L328.5,304.6 L338.1,304.6 L338.1,309.9 L340.8,310.3 L341.1,314.2 L345,314.2 L345.3,316.9 L348.9,316.9 L348.9,319.9 L352.9,319.9 L352.9,321.9 L361.8,321.9 L362.5,324.9 L370.7,324.9 L370.8,328.3 L461.2,328.5 L461.7,336.1 L478.6,336.1 L479.1,346.3 L512,346.3" fill="none" stroke="#c8082c" stroke-width="1.8"/><path d="M305.74,265.35v3.8M313.19,278.85v3.8M315.85,281.6v3.8M321.33,292.6v3.8M325.92,296.1v3.8M329.51,302.7v3.8M336.68,302.7v3.8M340.65,308.38v3.8M348.5,315v3.8M352.66,318v3.8M357.98,320v3.8M380,326.42v3.8M387.7,326.44v3.8M393.8,326.45v3.8M401.5,326.47v3.8M408.5,326.48v3.8M418.5,326.51v3.8M470.2,334.2v3.8" stroke="#c8082c" stroke-width="1" fill="none"/><path d="M300.4,259 L302,259 L302,259.5 L303.6,259.5 L303.6,260 L305.2,260 L305.2,260.5 L306.65,260.5 L306.65,261.5 L308.1,261.5 L308.1,262.5 L311,263.7 L313.3,263.7 L313.3,266 L315,266 L315,268.8 L316.8,268.8 L316.8,272.3 L318.5,272.3 L318.5,275.2 L320.8,275.2 L320.8,278.1 L322.25,278.1 L322.25,279.55 L323.7,279.55 L323.7,281 L325.45,281 L325.45,281.85 L327.2,281.85 L327.2,282.7 L330.6,283.8 L332.35,283.8 L332.35,284.7 L334.1,284.7 L334.1,285.6 L335.8,285.6 L335.8,286.75 L337.5,286.75 L337.5,287.9 L338.95,287.9 L338.95,288.85 L340.4,288.85 L340.4,289.8 L351.3,289.8 L356.4,290.2 L361.5,290.7 L363.2,290.7 L363.2,291.4 L364.9,291.4 L364.9,292.1 L366.6,292.1 L366.6,292.8 L368.3,292.8 L368.3,293.4 L370,293.4 L370,294 L371.7,294 L371.7,294.6 L379.3,295.8 L392.1,296.3 L394,296.3 L394,297.35 L395.9,297.35 L395.9,298.4 L397.95,298.4 L397.95,299.65 L400,299.65 L400,300.9" fill="none" stroke="#0f4a8a" stroke-width="2" stroke-dasharray="5.5 2.4 2000"/><path d="M400,300.9 L428.1,301.4 L429.3,304.7 L443.4,304.7 L443.9,311.1 L496.4,311.1 L496.9,320 L512,320" fill="none" stroke="#0f4a8a" stroke-width="1.9" stroke-dasharray="5 2"/><path d="M304.35,258.1v3.8M305.7,258.6v3.8M309.54,261.19v3.8M311.12,261.8v3.8M313.55,264.1v3.8M315.09,266.9v3.8M318.47,270.4v3.8M320.37,273.3v3.8M322.26,277.65v3.8M325.36,279.1v3.8M328.09,281.09v3.8M331.22,281.9v3.8M334.3,283.7v3.8M338.03,286v3.8M342.46,287.9v3.8M347.15,287.9v3.8M350.47,287.9v3.8M353.93,288.11v3.8M357.26,288.38v3.8M359.7,288.62v3.8M363.72,289.5v3.8M365.37,290.2v3.8M369.95,291.5v3.8M372.87,292.88v3.8M376.77,293.5v3.8M380.47,293.95v3.8M381.96,294v3.8M384.68,294.11v3.8M387.26,294.21v3.8M388.9,294.28v3.8M392.77,294.4v3.8M395.47,295.45v3.8M399.05,297.75v3.8M408.9,299.16v3.8M414,299.25v3.8M415.3,299.27v3.8M416.6,299.3v3.8M417.9,299.32v3.8M420.4,299.36v3.8M424.2,299.43v3.8M431.9,302.8v3.8M437,302.8v3.8M439.5,302.8v3.8M456.1,309.2v3.8M458.7,309.2v3.8M482.9,309.2v3.8" stroke="#0f4a8a" stroke-width="1" fill="none"/><rect x="289.8" y="256" width="222.4" height="137.2" fill="none" stroke="#000" stroke-width="1.45"/><line x1="286.7" y1="367.3" x2="289.8" y2="367.3" stroke="#000" stroke-width="1.5"/><text x="284.1" y="369.9" font-size="7.5" text-anchor="end" fill="#111">0.0</text><line x1="286.7" y1="345.7" x2="289.8" y2="345.7" stroke="#000" stroke-width="1.5"/><text x="284.1" y="348.3" font-size="7.5" text-anchor="end" fill="#111">0.2</text><line x1="286.7" y1="324.1" x2="289.8" y2="324.1" stroke="#000" stroke-width="1.5"/><text x="284.1" y="326.7" font-size="7.5" text-anchor="end" fill="#111">0.4</text><line x1="286.7" y1="302.5" x2="289.8" y2="302.5" stroke="#000" stroke-width="1.5"/><text x="284.1" y="305.1" font-size="7.5" text-anchor="end" fill="#111">0.6</text><line x1="286.7" y1="280.9" x2="289.8" y2="280.9" stroke="#000" stroke-width="1.5"/><text x="284.1" y="281.2" font-size="7.5" text-anchor="end" fill="#111">0.8</text><line x1="286.7" y1="259.3" x2="289.8" y2="259.3" stroke="#000" stroke-width="1.5"/><text x="284.1" y="261.9" font-size="7.5" text-anchor="end" fill="#111">1.0</text><text transform="translate(266.9,323.85) rotate(-90)" x="0" y="0" font-size="8.2" style="stroke-width:0.2px" text-anchor="middle" textLength="52.7" lengthAdjust="spacingAndGlyphs" fill="#111">Survival probability</text><line x1="300.2" y1="393.2" x2="300.2" y2="396.2" stroke="#000" stroke-width="1.2"/><text x="300.4" y="405" font-size="7.2" text-anchor="middle" fill="#111">0</text><line x1="320.83" y1="393.2" x2="320.83" y2="396.2" stroke="#000" stroke-width="1.2"/><text x="321.03" y="405" font-size="7.2" text-anchor="middle" fill="#111">1</text><line x1="341.46" y1="393.2" x2="341.46" y2="396.2" stroke="#000" stroke-width="1.2"/><text x="341.66" y="405" font-size="7.2" text-anchor="middle" fill="#111">2</text><line x1="362.09" y1="393.2" x2="362.09" y2="396.2" stroke="#000" stroke-width="1.2"/><text x="362.29" y="405" font-size="7.2" text-anchor="middle" fill="#111">3</text><line x1="382.72" y1="393.2" x2="382.72" y2="396.2" stroke="#000" stroke-width="1.2"/><text x="382.92" y="405" font-size="7.2" text-anchor="middle" fill="#111">4</text><line x1="403.35" y1="393.2" x2="403.35" y2="396.2" stroke="#000" stroke-width="1.2"/><text x="403.55" y="405" font-size="7.2" text-anchor="middle" fill="#111">5</text><line x1="423.98" y1="393.2" x2="423.98" y2="396.2" stroke="#000" stroke-width="1.2"/><text x="424.18" y="405" font-size="7.2" text-anchor="middle" fill="#111">6</text><line x1="444.61" y1="393.2" x2="444.61" y2="396.2" stroke="#000" stroke-width="1.2"/><text x="444.81" y="405" font-size="7.2" text-anchor="middle" fill="#111">7</text><line x1="465.24" y1="393.2" x2="465.24" y2="396.2" stroke="#000" stroke-width="1.2"/><text x="465.44" y="405" font-size="7.2" text-anchor="middle" fill="#111">8</text><line x1="485.87" y1="393.2" x2="485.87" y2="396.2" stroke="#000" stroke-width="1.2"/><text x="486.07" y="405" font-size="7.2" text-anchor="middle" fill="#111">9</text><line x1="506.5" y1="393.2" x2="506.5" y2="396.2" stroke="#000" stroke-width="1.2"/><text x="506.7" y="405" font-size="7.2" text-anchor="middle" fill="#111">10</text><text x="288" y="375" font-size="7" text-anchor="end" fill="#111">1</text><text x="300.55" y="375" font-size="7.25" text-anchor="middle" fill="#111">64</text><text x="321.18" y="375" font-size="7.25" text-anchor="middle" fill="#111">34</text><text x="341.81" y="375" font-size="7.25" text-anchor="middle" fill="#111">34</text><text x="362.44" y="375" font-size="7.25" text-anchor="middle" fill="#111">16</text><text x="383.07" y="375" font-size="7.25" text-anchor="middle" fill="#111">12</text><text x="403.7" y="375" font-size="7.25" text-anchor="middle" fill="#111">2</text><text x="424.33" y="375" font-size="7.25" text-anchor="middle" fill="#111">5</text><text x="444.96" y="375" font-size="7.25" text-anchor="middle" fill="#111">5</text><text x="465.59" y="375" font-size="7.25" text-anchor="middle" fill="#111">4</text><text x="486.22" y="375" font-size="7.25" text-anchor="middle" fill="#111">2</text><text x="506.85" y="375" font-size="7.25" text-anchor="middle" fill="#111">3</text><text x="288" y="383.8" font-size="7" text-anchor="end" fill="#111">2</text><text x="300.55" y="383.8" font-size="7.25" text-anchor="middle" fill="#111">192</text><text x="321.18" y="383.8" font-size="7.25" text-anchor="middle" fill="#111">105</text><text x="341.81" y="383.8" font-size="7.25" text-anchor="middle" fill="#111">24</text><text x="362.44" y="383.8" font-size="7.25" text-anchor="middle" fill="#111">99</text><text x="383.07" y="383.8" font-size="7.25" text-anchor="middle" fill="#111">42</text><text x="403.7" y="383.8" font-size="7.25" text-anchor="middle" fill="#111">26</text><text x="424.33" y="383.8" font-size="7.25" text-anchor="middle" fill="#111">18</text><text x="444.96" y="383.8" font-size="7.25" text-anchor="middle" fill="#111">9</text><text x="465.59" y="383.8" font-size="7.25" text-anchor="middle" fill="#111">2</text><text x="486.22" y="383.8" font-size="7.25" text-anchor="middle" fill="#111">6</text><text x="506.85" y="383.8" font-size="7.25" text-anchor="middle" fill="#111">5</text><text x="288" y="392.2" font-size="7" text-anchor="end" fill="#111">3</text><text x="300.55" y="392.2" font-size="7.25" text-anchor="middle" fill="#111">16</text><text x="321.18" y="392.2" font-size="7.25" text-anchor="middle" fill="#111">5</text><text x="341.81" y="392.2" font-size="7.25" text-anchor="middle" fill="#111">2</text><text x="362.44" y="392.2" font-size="7.25" text-anchor="middle" fill="#111">1</text><text x="383.07" y="392.2" font-size="7.25" text-anchor="middle" fill="#111">0</text><text x="397.5" y="417.5" font-size="8.8" style="stroke-width:0.35px" text-anchor="middle" textLength="124" lengthAdjust="spacingAndGlyphs" fill="#111">Overall survival (years from 1st progression)</text><rect x="448.6" y="258.9" width="60.6" height="17.4" fill="#fff" stroke="#000" stroke-width="1.2"/><text x="478.8" y="265.3" font-size="7" text-anchor="middle" fill="#111">+Censored</text><text x="478.8" y="273.8" font-size="7.1" text-anchor="middle" fill="#111">Logrank p &lt;.0001</text><rect x="285.7" y="424.4" width="217.5" height="20.6" fill="#fff" stroke="#000" stroke-width="1.3"/><text x="397.9" y="432" font-size="7" text-anchor="middle" fill="#111">Refractory group</text><line x1="288" y1="439.8" x2="300.3" y2="439.8" stroke="#c8082c" stroke-width="1.9"/><text x="302.4" y="441.4" font-size="7.1" textLength="36.8" lengthAdjust="spacingAndGlyphs" fill="#111">1: POD6-24</text><line x1="341.8" y1="439.8" x2="354.6" y2="439.8" stroke="#0f4a8a" stroke-width="1.9" stroke-dasharray="6 2"/><text x="357.2" y="441.4" font-size="7.1" textLength="36.2" lengthAdjust="spacingAndGlyphs" fill="#111">2: POD&gt;24</text><line x1="396.9" y1="439.8" x2="408.5" y2="439.8" stroke="#36b14a" stroke-width="1.9" stroke-dasharray="5.5 0.9 1 0.9"/><text x="412.3" y="441.4" font-size="7.1" textLength="84" lengthAdjust="spacingAndGlyphs" fill="#111">3: Primary refractory/POD6</text></g>
<rect x="0.6" y="0.5" width="518.8" height="453.6" fill="none" stroke="#000" stroke-width="1.3"/>
</svg></body></html>
